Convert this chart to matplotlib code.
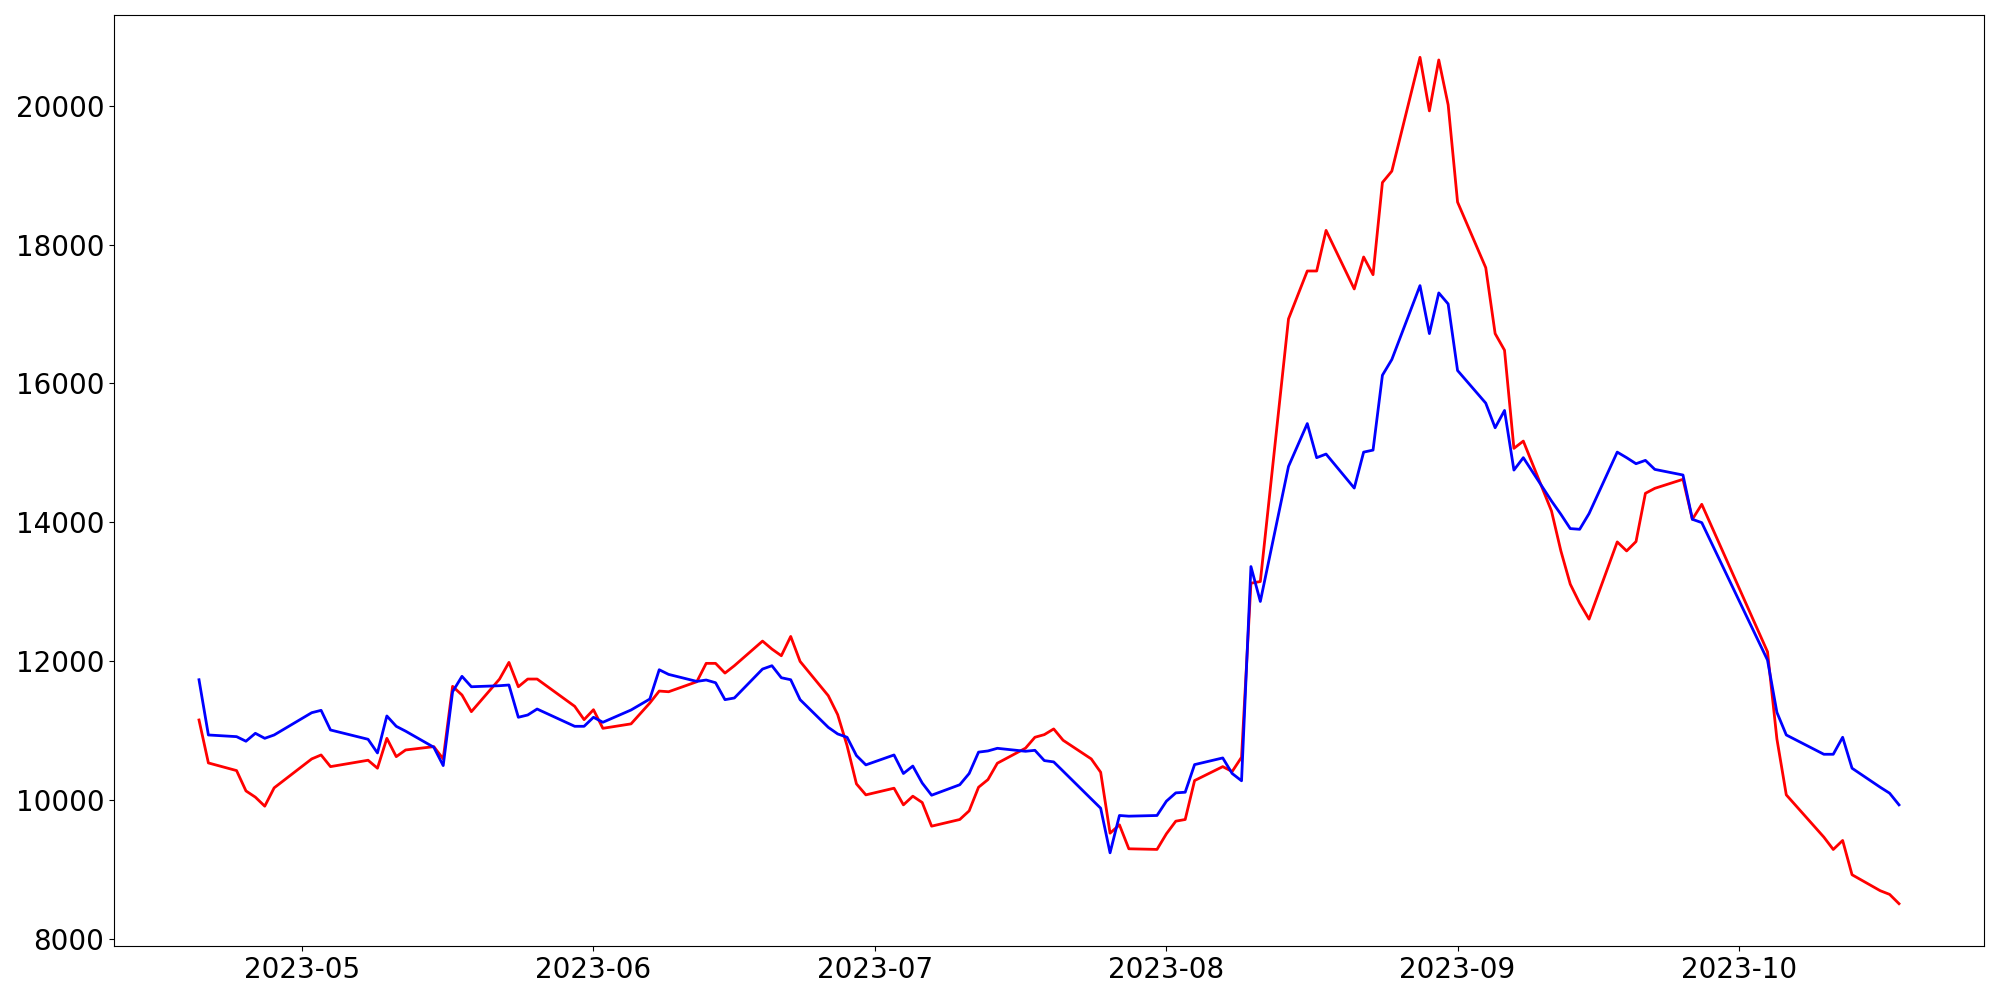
import pandas as pd
import matplotlib
matplotlib.use("Agg")
import matplotlib.pyplot as plt

# trading days (weekdays minus market holidays)
holidays = ["2023-05-01", "2023-05-05", "2023-05-29", "2023-06-06", "2023-08-15",
            "2023-09-28", "2023-09-29", "2023-10-02", "2023-10-03", "2023-10-09"]
dates = pd.bdate_range("2023-04-20", "2023-10-18", freq="C", holidays=holidays)

blue = [11731, 10935, 10911, 10845, 10959, 10887, 10935, 11256, 11290, 11007,
        10873, 10676, 11209, 11060, 10990, 10758, 10494, 11558, 11780, 11630,
        11645, 11655, 11190, 11223, 11309, 11060, 11060, 11190, 11118, 11295,
        11453, 11875, 11808, 11707, 11727, 11688, 11444, 11468, 11885, 11933,
        11760, 11731, 11444, 11045, 10950, 10902, 10638, 10504, 10647, 10380,
        10487, 10243, 10067, 10218, 10380, 10688, 10705, 10743, 10700, 10714,
        10566, 10547, 10414, 10013, 9880, 9237, 9775, 9765, 9775, 9981,
        10101, 10110, 10508, 10604, 10380, 10275, 13362, 12859, 14805, 15422,
        14931, 14983, 14493, 15011, 15040, 16119, 16345, 17410, 16719, 17305,
        17146, 16187, 15717, 15362, 15611, 14752, 14931, 14307, 14115, 13909,
        13899, 14125, 15011, 14931, 14844, 14892, 14762, 14681, 14043, 13995,
        12014, 11261, 10935, 10657, 10657, 10902, 10456, 10182, 10096, 9928]

red = [11151, 10532, 10422, 10129, 10039, 9909, 10173, 10590, 10647, 10479,
       10571, 10456, 10887, 10623, 10719, 10767, 10590, 11636, 11511, 11271,
       11741, 11981, 11630, 11741, 11741, 11348, 11156, 11299, 11031, 11095,
       11396, 11568, 11558, 11702, 11967, 11967, 11827, 11933, 12288, 12173,
       12077, 12355, 11995, 11501, 11228, 10781, 10230, 10072, 10168, 9928,
       10053, 9962, 9621, 9717, 9842, 10182, 10292, 10528, 10745, 10902,
       10940, 11022, 10859, 10590, 10398, 9520, 9640, 9295, 9286, 9511,
       9693, 9717, 10278, 10479, 10408, 10614, 13122, 13146, 16931, 17621,
       17621, 18206, 17362, 17823, 17568, 18896, 19060, 20700, 19928, 20662,
       20014, 18614, 17669, 16719, 16479, 15065, 15170, 14163, 13587, 13108,
       12834, 12604, 13717, 13587, 13722, 14417, 14489, 14619, 14043, 14259,
       12134, 10878, 10072, 9463, 9285, 9415, 8921, 8691, 8638, 8504]

plt.figure(figsize=(20, 10), dpi=100)
plt.plot(dates, red, color="red", linewidth=2)
plt.plot(dates, blue, color="blue", linewidth=2)
plt.xticks(fontsize=20)
plt.yticks(fontsize=20)
plt.subplots_adjust(left=0.057, right=0.992, top=0.985, bottom=0.054)
plt.savefig("out.png")
